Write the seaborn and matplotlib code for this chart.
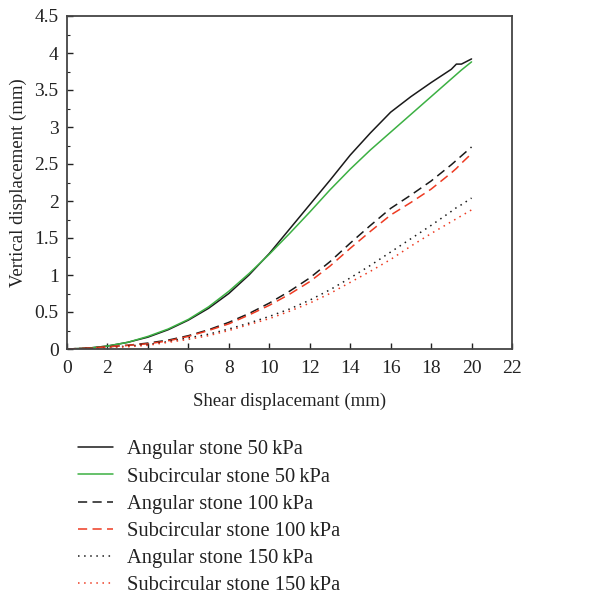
import matplotlib
matplotlib.use("Agg")
import matplotlib.pyplot as plt
import seaborn as sns
import pandas as pd
from matplotlib.ticker import MultipleLocator

sns.set_style("ticks")
plt.rcParams['font.family'] = ['Liberation Serif', 'DejaVu Serif']

shear = [0, 1, 2, 3, 4, 5, 6, 7, 8, 9, 10, 11, 12, 13, 14, 15, 16, 17, 18, 19, 19.25, 19.5, 20]
angular_50 = [0, 0.01, 0.04, 0.09, 0.16, 0.26, 0.39, 0.55, 0.75, 1.0, 1.29, 1.62, 1.95, 2.28, 2.62, 2.92, 3.2, 3.41, 3.6, 3.78, 3.85, 3.85, 3.92]
subcirc_50 = [0, 0.01, 0.04, 0.09, 0.17, 0.27, 0.40, 0.57, 0.78, 1.02, 1.28, 1.56, 1.85, 2.15, 2.43, 2.69, 2.93, 3.17, 3.41, 3.65, 3.71, 3.77, 3.88]
angular_100 = [0, 0.01, 0.03, 0.05, 0.08, 0.12, 0.18, 0.26, 0.36, 0.48, 0.62, 0.78, 0.96, 1.18, 1.43, 1.67, 1.90, 2.08, 2.27, 2.49, 2.55, 2.61, 2.73]
subcirc_100 = [0, 0.01, 0.03, 0.05, 0.07, 0.11, 0.17, 0.25, 0.34, 0.46, 0.59, 0.74, 0.91, 1.12, 1.36, 1.59, 1.81, 1.98, 2.16, 2.38, 2.44, 2.51, 2.64]
angular_150 = [0, 0.01, 0.02, 0.04, 0.06, 0.10, 0.15, 0.20, 0.27, 0.35, 0.44, 0.54, 0.66, 0.80, 0.96, 1.13, 1.31, 1.49, 1.67, 1.86, 1.91, 1.95, 2.04]
subcirc_150 = [0, 0.01, 0.02, 0.03, 0.05, 0.09, 0.13, 0.18, 0.25, 0.33, 0.41, 0.51, 0.62, 0.75, 0.90, 1.05, 1.21, 1.39, 1.56, 1.72, 1.76, 1.80, 1.88]

labels = ["Angular stone 50\u2009kPa", "Subcircular stone 50\u2009kPa", "Angular stone 100\u2009kPa",
          "Subcircular stone 100\u2009kPa", "Angular stone 150\u2009kPa", "Subcircular stone 150\u2009kPa"]
series = [angular_50, subcirc_50, angular_100, subcirc_100, angular_150, subcirc_150]
colors = ["#1a1a1a", "#3cb043", "#1a1a1a", "#ee3b22", "#1a1a1a", "#ee3b22"]
styles = ["-", "-", (0, (6, 3.5)), (0, (6, 3.5)), (0, (1, 3)), (0, (1, 3))]

fig = plt.figure(figsize=(6.12, 5.97), dpi=100)
ax = fig.add_axes([67/612, 1-349/597, (512-67)/612, (349-16)/597])

for lab, vals, c, ls in zip(labels, series, colors, styles):
    df = pd.DataFrame({"x": shear, "y": vals})
    sns.lineplot(data=df, x="x", y="y", ax=ax, color=c, linestyle=ls, linewidth=1.1, label=lab)

ax.set_xlim(0, 22)
ax.set_ylim(0, 4.5)
ax.xaxis.set_major_locator(MultipleLocator(2))
ax.yaxis.set_minor_locator(MultipleLocator(0.25))
ax.set_yticks([0, 0.5, 1, 1.5, 2, 2.5, 3, 3.5, 4, 4.5])
ax.set_yticklabels(["0", "0.5", "1", "1.5", "2", "2.5", "3", "3.5", "4", "4.5"])
ax.tick_params(axis="y", direction="in", length=4, width=1, labelsize=14, colors="#222222", pad=6)
ax.tick_params(axis="x", direction="in", length=4, width=1, labelsize=14, colors="#222222", pad=8)
ax.tick_params(which="minor", direction="in", length=2.5, width=0.8)
for s in ax.spines.values():
    s.set_color("#444444")
    s.set_linewidth(1.3)
ax.set_xlabel("Shear displacemant (mm)", fontsize=13.5, color="#222222", labelpad=11)
ax.set_ylabel("Vertical displacement (mm)", fontsize=13.5, color="#222222", labelpad=5)

handles, labs = ax.get_legend_handles_labels()
ax.get_legend().remove()
fig.legend(handles, labs, loc="upper left", bbox_to_anchor=(78/612, 1-440/597),
           frameon=False, fontsize=14.8, handlelength=1.7, handletextpad=0.68,
           labelspacing=0.38, borderpad=0, borderaxespad=0, labelcolor="#222222")

fig.savefig("out.png", dpi=100)
